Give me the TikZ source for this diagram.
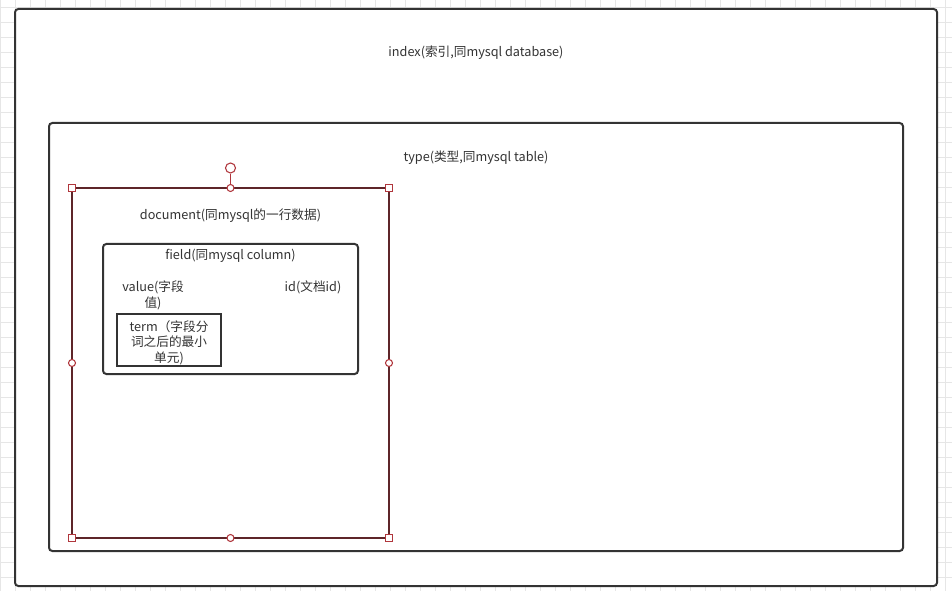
\documentclass[tikz,border=0pt]{standalone}
\usepackage{fontspec}
\setmainfont{Noto Sans CJK SC}
\definecolor{ink}{HTML}{333333}
\definecolor{gridc}{HTML}{E6E6E6}
\definecolor{sel}{HTML}{B0363C}
\definecolor{docline}{HTML}{5E2529}
\tikzset{
  box/.style={draw=ink, line width=1.5pt, fill=white, inner sep=0pt, outer sep=0pt},
  lbl/.style={text=ink, font=\fontsize{9.5pt}{11.7pt}\selectfont, inner sep=0pt, align=center},
  sqhandle/.style={draw=sel, line width=0.8pt, fill=white, minimum size=5.25pt, inner sep=0pt, rectangle},
  cihandle/.style={draw=sel, line width=0.8pt, fill=white, minimum size=5.25pt, inner sep=0pt, circle},
}
\begin{document}
\begin{tikzpicture}[x=0.75pt,y=-0.75pt]
\useasboundingbox (0,0) rectangle (952,591);
\fill[white] (0,0) rectangle (952,591);
% background grid
\foreach \gx in {0,15,...,945} \draw[gridc, line width=0.6pt] (\gx,0) -- (\gx,591);
\foreach \gy in {7,22,...,591} \draw[gridc, line width=0.6pt] (0,\gy) -- (952,\gy);
% boxes
\node[box, rounded corners=2.5pt, minimum width=691.5pt, minimum height=432.75pt] (outer) at (476,297.5) {};
\node[box, rounded corners=2.5pt, minimum width=640.5pt, minimum height=321pt] (type) at (476,337) {};
\node[box, draw=docline, minimum width=237.75pt, minimum height=262.5pt] (doc) at (230.5,363) {};
\node[box, rounded corners=2.5pt, minimum width=191.25pt, minimum height=97.5pt] (field) at (230.5,309) {};
\node[box, minimum width=78pt, minimum height=39pt] (term) at (169,340) {};
% labels
\node[lbl] (tindex) at (476,52.5) {index(索引,同mysql database)};
\node[lbl] (ttype) at (476,157.5) {type(类型,同mysql table)};
\node[lbl] (tdoc) at (230.5,215.5) {document(同mysql的一行数据)};
\node[lbl] (tfield) at (230.5,255.5) {field(同mysql column)};
\node[lbl] (tvalue) at (153,295.5) {value(字段\\值)};
\node[lbl] (tid) at (313,287.5) {id(文档id)};
\node[lbl] (tterm) at (169,342.5) {term（字段分\\词之后的最小\\单元)};
% selection handles
\node[cihandle, minimum size=7.5pt] (rot) at (230.5,168) {};
\draw[sel, line width=0.8pt] (rot.south) -- (doc.north);
\node[sqhandle] (hnw) at (doc.north west) {};
\node[sqhandle] (hne) at (doc.north east) {};
\node[sqhandle] (hsw) at (doc.south west) {};
\node[sqhandle] (hse) at (doc.south east) {};
\node[cihandle] (hn) at (doc.north) {};
\node[cihandle] (hs) at (doc.south) {};
\node[cihandle] (hw) at (doc.west) {};
\node[cihandle] (he) at (doc.east) {};
\end{tikzpicture}
\end{document}
